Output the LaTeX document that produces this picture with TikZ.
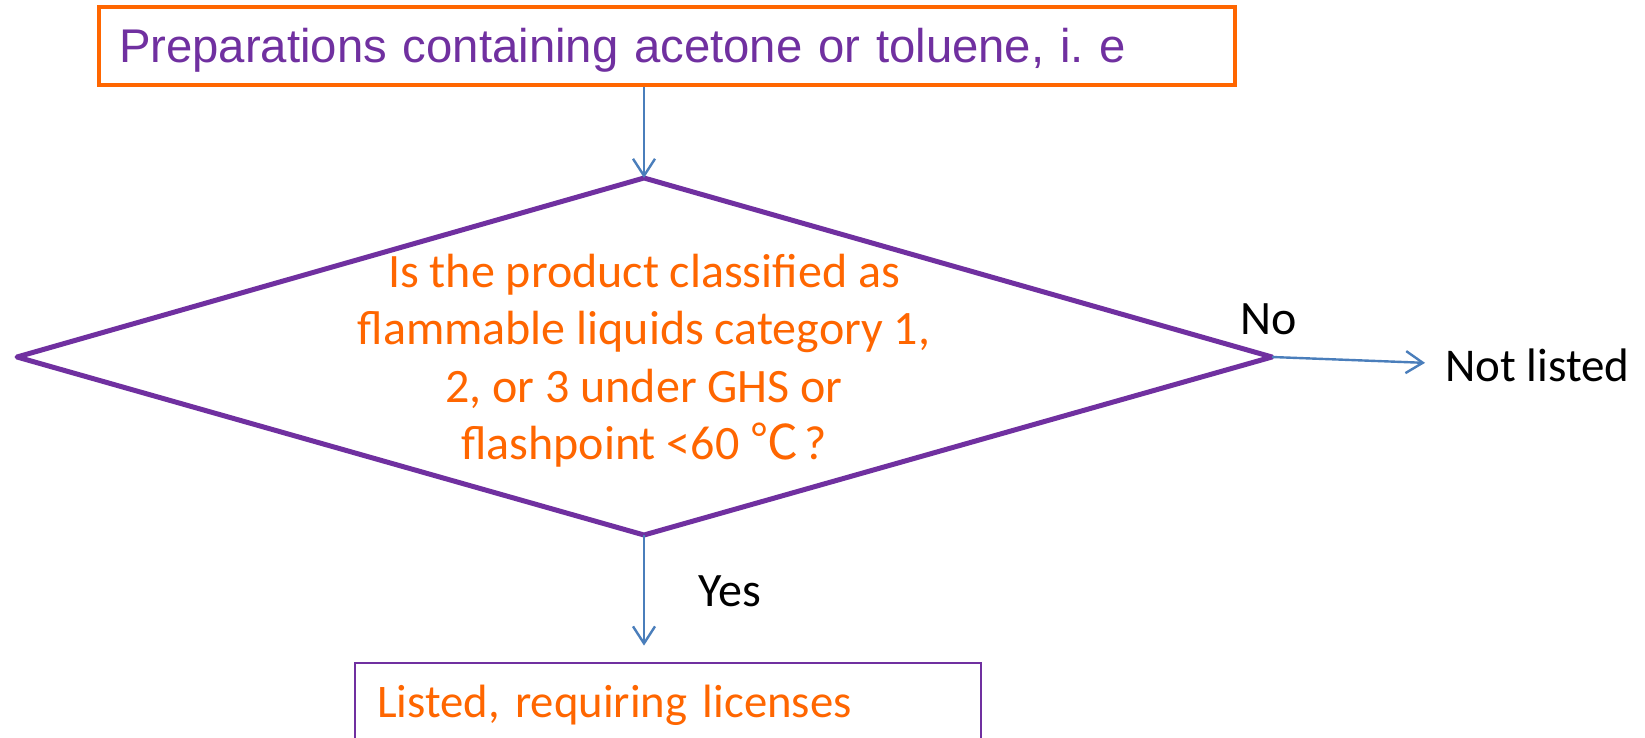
\documentclass[tikz,border=0pt]{standalone}
\usepackage{fontspec}
\setmainfont{Carlito}
\newfontfamily\arialf{Liberation Sans}
\newfontfamily\cjkf{Noto Sans CJK SC}
\usetikzlibrary{arrows.meta,calc}
\definecolor{ppurple}{HTML}{7030A0}
\definecolor{porange}{HTML}{FF6600}
\definecolor{pblue}{HTML}{4A7EBB}
\frenchspacing
\begin{document}
\begin{tikzpicture}[x=1pt,y=-1pt,
  arr/.style={draw=pblue, line width=2.4pt, -{Straight Barb[length=17pt,width=22pt]}},
  big/.style={font=\fontsize{48}{57.5}\selectfont},
  mid/.style={font=\fontsize{47}{55}\selectfont},
  txt/.style={big, inner sep=0pt},
  boxstyle/.style={align=left, inner ysep=0pt},
]
\clip (0,0) rectangle (1645,738);
\fill[white] (0,0) rectangle (1645,738);

% top box
\node[boxstyle, draw=porange, line width=3.2pt, text=ppurple,
      font={\arialf\fontsize{47.3}{55}\selectfont\frenchspacing},
      minimum width=1136pt, minimum height=78pt,
      text width=1096pt, inner xsep=20pt,
      text height=44.5pt, text depth=10.5pt] (top) at (667,46)
  {\mbox{Preparations containing acetone or toluene, i. e}};

% decision diamond
\coordinate (qt) at (644,178);
\coordinate (qr) at (1272,357);
\coordinate (qb) at (644,535);
\coordinate (ql) at (17,357);
\draw[ppurple, line width=5pt, line join=round] (qt) -- (qr) -- (qb) -- (ql) -- cycle;
\node[txt, text=porange, align=center] (qtext) at (644,360.5)
  {Is the product classified as\\flammable liquids category 1,\\2, or 3 under GHS or\\flashpoint <60 {\cjkf ℃}\hspace{6pt}?};

% bottom box
\node[boxstyle, draw=ppurple, line width=2.8pt, text=porange,
      font={\fontsize{46.7}{55}\selectfont},
      minimum width=626pt, minimum height=100pt,
      text width=582pt, inner xsep=22pt,
      text height=36pt, text depth=28pt] (bot) at (668,713)
  {\mbox{Listed, requiring licenses}};

% labels
\node[txt, anchor=base west] (no) at (1240,334) {No};
\node[txt, mid, anchor=base west] (nl) at (1445,381) {Not listed};
\node[txt, anchor=base west] (yes) at (698,606) {Yes};

% connectors
\draw[arr] (top.south -| qt) -- (qt);
\draw[arr] (qr) -- ([xshift=-20pt,yshift=2pt]nl.west);
\draw[arr] (qb) -- ($(qb |- bot.north)+(0,-16)$);
\end{tikzpicture}
\end{document}
